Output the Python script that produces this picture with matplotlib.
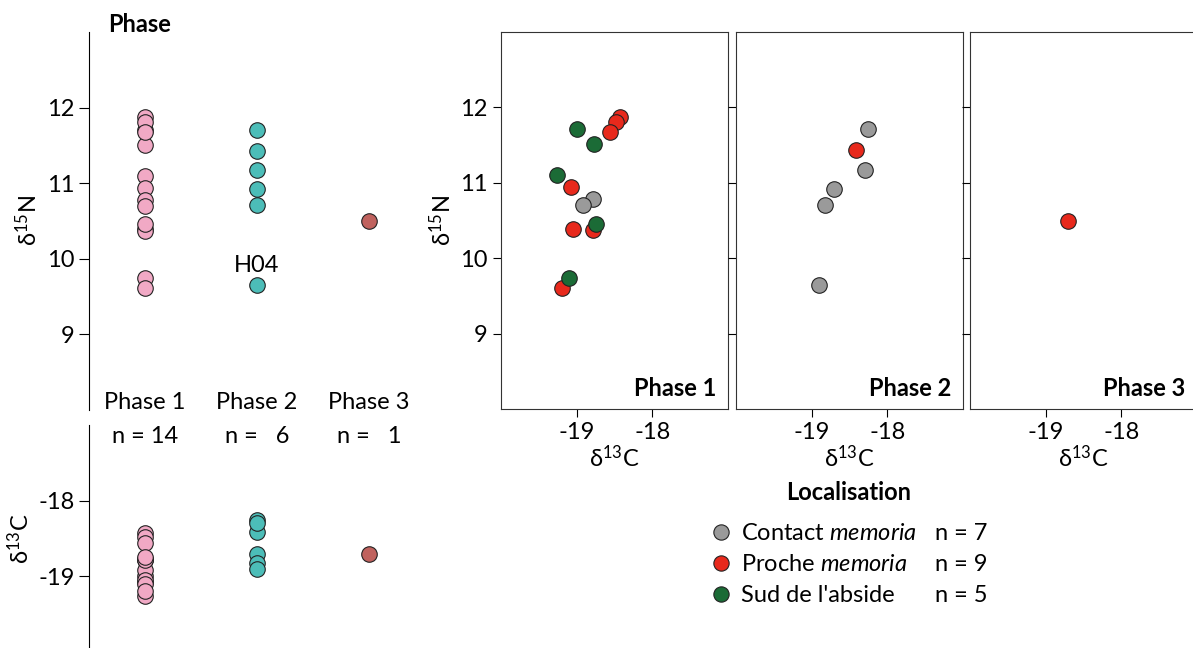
import numpy as np
import matplotlib
matplotlib.use("Agg")
import matplotlib.pyplot as plt
from matplotlib.lines import Line2D
from matplotlib.transforms import blended_transform_factory

plt.rcParams['font.family'] = ['Lato', 'DejaVu Sans']
plt.rcParams['mathtext.fontset'] = 'custom'
plt.rcParams['mathtext.rm'] = 'Lato'
plt.rcParams['mathtext.it'] = 'Lato:italic'
plt.rcParams['mathtext.bf'] = 'Lato:bold'
plt.rcParams['mathtext.default'] = 'regular'
plt.rcParams['axes.unicode_minus'] = False

# one entry per individual
phase = [1] * 14 + [2] * 6 + [3]
loc = ['S', 'S', 'P', 'P', 'P', 'S', 'P', 'C', 'C', 'P', 'P', 'S', 'S', 'P',
       'C', 'P', 'C', 'C', 'C', 'C',
       'P']
d13c = [-18.99, -18.77, -18.43, -18.48, -18.56, -19.26, -19.08, -18.79, -18.92,
        -19.05, -18.79, -18.74, -19.10, -19.19,
        -18.26, -18.41, -18.30, -18.70, -18.82, -18.90,
        -18.70]
d15n = [11.71, 11.51, 11.87, 11.81, 11.68, 11.10, 10.94, 10.78, 10.70,
        10.39, 10.37, 10.46, 9.74, 9.61,
        11.71, 11.43, 11.17, 10.92, 10.71, 9.65,
        10.50]
ids = [''] * 19 + ['H04'] + ['']

phases = ['Phase 1', 'Phase 2', 'Phase 3']
phase_colors = ['#F1A9C5', '#4CBDB8', '#C0625E']
loc_codes = ['C', 'P', 'S']
loc_labels = ['Contact $\\mathit{memoria}$', 'Proche $\\mathit{memoria}$', "Sud de l'abside"]
loc_colors = ['#9A9A9A', '#E8291C', '#1B6B36']

phase = np.array(phase)
loc = np.array(loc)
d13c = np.array(d13c)
d15n = np.array(d15n)

W, H = 1193, 648
FS = 17
fig = plt.figure(figsize=(W / 100, H / 100), dpi=100)


def rect(x0, y0, x1, y1):
    return [x0 / W, 1 - y1 / H, (x1 - x0) / W, (y1 - y0) / H]


mk = dict(s=125, edgecolors='#222222', linewidths=0.8, zorder=3)

# left: values per phase
ax_c = fig.add_axes(rect(89, 425, 425, 652))
ax_n = fig.add_axes(rect(89, 32, 425, 410))
for ax in (ax_n, ax_c):
    for s in ('top', 'right', 'bottom'):
        ax.spines[s].set_visible(False)
    ax.set_xticks([])
    ax.set_xlim(-0.5, 2.5)
    ax.tick_params(axis='y', length=7, labelsize=FS)
    ax.patch.set_alpha(0)

for i in range(3):
    m = phase == i + 1
    ax_n.scatter(np.full(m.sum(), i), d15n[m], color=phase_colors[i], **mk)
    ax_c.scatter(np.full(m.sum(), i), d13c[m], color=phase_colors[i], **mk)

for i, lab in enumerate(ids):
    if lab:
        ax_n.annotate(lab, (phase[i] - 1, d15n[i]), xytext=(0, 7), textcoords='offset points',
                      ha='center', va='bottom', fontsize=FS)

ax_n.set_ylim(8, 13)
ax_n.set_yticks([9, 10, 11, 12])
ax_n.set_ylabel('δ$^{15}$N', fontsize=FS)
ax_c.set_ylim(-20, -17)
ax_c.set_yticks([-19, -18])
ax_c.set_ylabel('δ$^{13}$C', fontsize=FS)

tr = blended_transform_factory(ax_n.transData, ax_n.transAxes)
for i, p in enumerate(phases):
    n = (phase == i + 1).sum()
    ax_n.text(i, 0.021, p, transform=tr, ha='center', va='center', fontsize=FS)
    ax_n.text(i, -0.071, 'n = ' + str(n).rjust(2).replace(' ', '  '), transform=tr,
              ha='center', va='center', fontsize=FS, clip_on=False)

fig.text(140 / W, 1 - 24 / H, 'Phase', ha='center', va='center', fontsize=FS, fontweight='bold')

# right: d13C vs d15N per phase
lefts = [501, 736, 970]
for k in range(3):
    ax = fig.add_axes(rect(lefts[k], 32, lefts[k] + 227, 409))
    for j, code in enumerate(loc_codes):
        m = (phase == k + 1) & (loc == code)
        ax.scatter(d13c[m], d15n[m], color=loc_colors[j], **mk)
    ax.set_xlim(-20, -17)
    ax.set_ylim(8, 13)
    ax.set_xticks([-19, -18])
    ax.set_yticks([9, 10, 11, 12])
    ax.tick_params(length=6, labelsize=FS)
    if k > 0:
        ax.set_yticklabels([])
    else:
        ax.set_ylabel('δ$^{15}$N', fontsize=FS)
    ax.set_xlabel('δ$^{13}$C', fontsize=FS, labelpad=1)
    ax.text(0.95, 0.025, phases[k], transform=ax.transAxes, ha='right', va='bottom',
            fontsize=FS, fontweight='bold')
    for s in ax.spines.values():
        s.set_color('#333333')

# legend
handles = [Line2D([], [], ls='none', marker='o', markersize=11, markerfacecolor=c,
                  markeredgecolor='#222222', markeredgewidth=0.8) for c in loc_colors]
counts = ['n = %d' % (loc == c).sum() for c in loc_codes]
leg_kw = dict(loc='upper left', frameon=False, fontsize=FS, borderpad=0,
              borderaxespad=0, labelspacing=0.42)
top = 1 - 523 / H
fig.legend(handles, loc_labels, bbox_to_anchor=(710 / W, top),
           handlelength=0.9, handletextpad=0.4, **leg_kw)
fig.legend([Line2D([], [], ls='none')] * 3, counts, bbox_to_anchor=(935 / W, top),
           handlelength=0, handletextpad=0, **leg_kw)
fig.text(849 / W, 1 - 493 / H, 'Localisation', ha='center', va='center',
         fontsize=FS, fontweight='bold')

fig.savefig('out.png', dpi=100)
